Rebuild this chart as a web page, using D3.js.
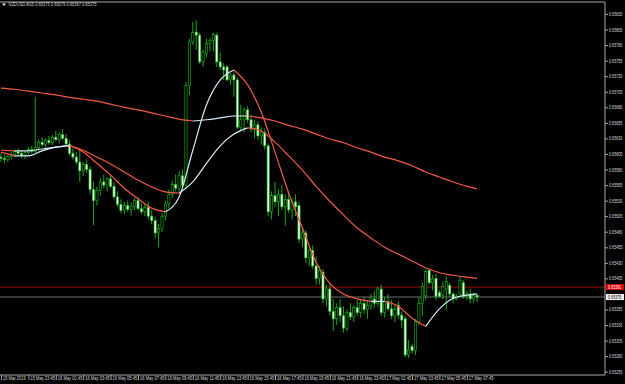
<!DOCTYPE html>
<html>
<head>
<meta charset="utf-8">
<script src="https://cdn.jsdelivr.net/npm/d3@7"></script>
<style>
html, body { margin: 0; padding: 0; background: #000; }
svg { display: block; }
text { font-family: "Liberation Sans", Arial, sans-serif; }
</style>
</head>
<body>
<svg id="chart" width="625" height="384"></svg>
<script>
// NZDUSD M15, 15 May 21:45 -> 17 May 08:30 (140 bars)
const opens = [0.65600,0.65598,0.65596,0.65601,0.65604,0.65609,0.65606,0.65603,0.65607,0.65612,
  0.65609,0.65615,0.65624,0.65620,0.65627,0.65623,0.65632,0.65628,0.65636,0.65630,
  0.65621,0.65606,0.65600,0.65592,0.65578,0.65588,0.65580,0.65548,0.65530,0.65546,
  0.65560,0.65555,0.65565,0.65553,0.65536,0.65524,0.65514,0.65522,0.65516,0.65520,
  0.65530,0.65517,0.65512,0.65519,0.65505,0.65498,0.65478,0.65485,0.65505,0.65525,
  0.65540,0.65556,0.65550,0.65570,0.65555,0.65715,0.65785,0.65801,0.65796,0.65753,
  0.65766,0.65783,0.65787,0.65796,0.65753,0.65745,0.65745,0.65724,0.65732,0.65724,
  0.65648,0.65660,0.65676,0.65660,0.65645,0.65652,0.65634,0.65640,0.65618,0.65512,
  0.65538,0.65528,0.65540,0.65520,0.65532,0.65515,0.65528,0.65522,0.65468,0.65478,
  0.65438,0.65450,0.65425,0.65405,0.65415,0.65372,0.65388,0.65352,0.65340,0.65358,
  0.65345,0.65325,0.65350,0.65343,0.65358,0.65350,0.65365,0.65355,0.65362,0.65372,
  0.65365,0.65388,0.65350,0.65368,0.65356,0.65345,0.65362,0.65346,0.65340,0.65282,
  0.65296,0.65289,0.65335,0.65365,0.65378,0.65418,0.65398,0.65405,0.65382,0.65378,
  0.65388,0.65394,0.65380,0.65372,0.65380,0.65398,0.65376,0.65380,0.65372,0.65378];
const highs = [0.65606,0.65604,0.65603,0.65608,0.65612,0.65614,0.65611,0.65610,0.65616,0.65618,
  0.65697,0.65628,0.65632,0.65630,0.65634,0.65636,0.65642,0.65640,0.65645,0.65637,
  0.65627,0.65614,0.65608,0.65612,0.65592,0.65596,0.65585,0.65560,0.65552,0.65566,
  0.65572,0.65568,0.65572,0.65560,0.65545,0.65532,0.65528,0.65530,0.65527,0.65534,
  0.65536,0.65526,0.65524,0.65528,0.65515,0.65503,0.65492,0.65510,0.65530,0.65548,
  0.65562,0.65572,0.65578,0.65580,0.65721,0.65790,0.65817,0.65820,0.65800,0.65772,
  0.65790,0.65792,0.65800,0.65800,0.65768,0.65751,0.65748,0.65735,0.65736,0.65728,
  0.65684,0.65680,0.65682,0.65668,0.65660,0.65658,0.65648,0.65646,0.65622,0.65545,
  0.65560,0.65548,0.65555,0.65540,0.65545,0.65534,0.65540,0.65528,0.65485,0.65482,
  0.65455,0.65458,0.65440,0.65425,0.65420,0.65395,0.65398,0.65372,0.65365,0.65372,
  0.65360,0.65355,0.65365,0.65362,0.65370,0.65372,0.65375,0.65368,0.65380,0.65385,
  0.65392,0.65395,0.65375,0.65380,0.65370,0.65362,0.65368,0.65352,0.65345,0.65306,
  0.65300,0.65340,0.65375,0.65398,0.65420,0.65420,0.65410,0.65412,0.65386,0.65400,
  0.65408,0.65398,0.65382,0.65380,0.65408,0.65402,0.65385,0.65388,0.65382,0.65379];
const lows = [0.65592,0.65590,0.65592,0.65596,0.65600,0.65603,0.65598,0.65597,0.65604,0.65606,
  0.65605,0.65610,0.65617,0.65615,0.65620,0.65619,0.65625,0.65622,0.65628,0.65618,
  0.65602,0.65596,0.65588,0.65560,0.65570,0.65575,0.65540,0.65491,0.65522,0.65538,
  0.65550,0.65545,0.65550,0.65532,0.65520,0.65510,0.65508,0.65512,0.65506,0.65515,
  0.65514,0.65508,0.65505,0.65500,0.65492,0.65470,0.65455,0.65480,0.65498,0.65518,
  0.65534,0.65545,0.65544,0.65548,0.65548,0.65700,0.65780,0.65772,0.65750,0.65745,
  0.65760,0.65770,0.65770,0.65745,0.65740,0.65724,0.65722,0.65716,0.65697,0.65645,
  0.65642,0.65640,0.65655,0.65640,0.65630,0.65628,0.65620,0.65612,0.65505,0.65500,
  0.65520,0.65505,0.65515,0.65490,0.65510,0.65500,0.65505,0.65462,0.65455,0.65430,
  0.65425,0.65420,0.65395,0.65395,0.65365,0.65360,0.65345,0.65320,0.65330,0.65335,
  0.65318,0.65320,0.65338,0.65335,0.65345,0.65342,0.65348,0.65340,0.65355,0.65358,
  0.65360,0.65345,0.65342,0.65352,0.65340,0.65335,0.65340,0.65325,0.65278,0.65277,
  0.65284,0.65282,0.65330,0.65345,0.65370,0.65395,0.65386,0.65370,0.65374,0.65372,
  0.65355,0.65375,0.65365,0.65370,0.65378,0.65372,0.65370,0.65365,0.65366,0.65367];
const closes = [0.65598,0.65596,0.65601,0.65604,0.65609,0.65606,0.65603,0.65607,0.65612,0.65609,
  0.65615,0.65624,0.65620,0.65627,0.65623,0.65632,0.65628,0.65636,0.65630,0.65621,
  0.65606,0.65600,0.65592,0.65578,0.65588,0.65580,0.65548,0.65530,0.65546,0.65560,
  0.65555,0.65565,0.65553,0.65536,0.65524,0.65514,0.65522,0.65516,0.65520,0.65530,
  0.65517,0.65512,0.65519,0.65505,0.65498,0.65478,0.65485,0.65505,0.65525,0.65540,
  0.65556,0.65550,0.65570,0.65555,0.65715,0.65785,0.65800,0.65796,0.65753,0.65769,
  0.65783,0.65787,0.65797,0.65753,0.65745,0.65740,0.65724,0.65732,0.65724,0.65648,
  0.65660,0.65676,0.65660,0.65645,0.65652,0.65634,0.65640,0.65618,0.65512,0.65538,
  0.65528,0.65540,0.65520,0.65532,0.65515,0.65528,0.65520,0.65468,0.65478,0.65438,
  0.65450,0.65425,0.65405,0.65418,0.65372,0.65388,0.65352,0.65340,0.65358,0.65345,
  0.65325,0.65350,0.65343,0.65358,0.65350,0.65365,0.65355,0.65362,0.65372,0.65365,
  0.65388,0.65350,0.65368,0.65356,0.65345,0.65355,0.65346,0.65338,0.65282,0.65290,
  0.65289,0.65335,0.65365,0.65392,0.65416,0.65398,0.65404,0.65376,0.65376,0.65392,
  0.65400,0.65380,0.65372,0.65377,0.65402,0.65376,0.65380,0.65372,0.65378,0.65375];

const maBars = [0,4,8,12,16,20,24,28,32,36,40,44,48,52,56,60,64,68,72,76,80,84,88,92,96,100,104,108,112,116,120,124,128,132,136,139];
const maFast = [0.65608,0.65602,0.65602,0.65610,0.65616,0.65619,0.65608,0.65590,0.65571,0.65550,0.65533,0.65518,0.65512,0.65536,0.65611,0.65684,0.65724,0.65740,0.65716,0.65672,0.65608,0.65542,0.65486,0.65431,0.65397,0.65380,0.65372,0.65368,0.65368,0.65360,0.65341,0.65328,0.65356,0.65373,0.65378,0.65380];
const maMid = [0.65611,0.65610,0.65610,0.65613,0.65616,0.65618,0.65611,0.65600,0.65589,0.65576,0.65563,0.65552,0.65544,0.65542,0.65560,0.65590,0.65618,0.65637,0.65647,0.65642,0.65624,0.65602,0.65579,0.65553,0.65529,0.65507,0.65486,0.65470,0.65455,0.65444,0.65433,0.65422,0.65414,0.65410,0.65407,0.65405];
const maSlow = [0.65711,0.65709,0.65706,0.65703,0.65700,0.65696,0.65693,0.65690,0.65685,0.65680,0.65676,0.65671,0.65666,0.65661,0.65658,0.65660,0.65663,0.65666,0.65666,0.65663,0.65658,0.65651,0.65645,0.65637,0.65629,0.65623,0.65615,0.65608,0.65600,0.65594,0.65586,0.65576,0.65568,0.65560,0.65553,0.65549];

const priceTicks = [0.65830,0.65805,0.65780,0.65755,0.65730,0.65705,0.65680,0.65655,0.65630,0.65605,0.65580,0.65555,0.65530,0.65505,0.65480,0.65455,0.65430,0.65405,0.65380,0.65355,0.65330,0.65305,0.65280,0.65255];
const timeBars = [0,8,16,24,32,40,48,56,64,72,80,88,96,104,112,120,128,136];
const timeLabels = ["15 May 2019","15 May 23:45","16 May 01:45","16 May 03:45","16 May 05:45","16 May 07:45","16 May 09:45","16 May 11:45","16 May 13:45","16 May 15:45","16 May 17:45","16 May 19:45","16 May 21:45","16 May 23:45","17 May 01:45","17 May 03:45","17 May 05:45","17 May 07:45"];
const bidPrice = 0.65375, askPrice = 0.65391;
const title = "NZDUSD,M15  0.65375 0.65379 0.65367 0.65375";

const svg = d3.select("#chart");
const W = 605, plotTop = 2, plotBottom = 375;
const green = "#1cb81c", bullFill = "#000", bearFill = "#dff7df";
const upColor = "#d6ecf7", downColor = "#f25a44";

const x = d3.scaleLinear().domain([0, 139]).range([1, 477.1]);
const y = d3.scaleLinear().domain([0.65255, 0.65830]).range([371.7, 14]);

svg.append("rect").attr("width", 625).attr("height", 384).attr("fill", "#000");

// ask / bid lines
svg.append("line").attr("x1", 0).attr("x2", W).attr("y1", y(askPrice)).attr("y2", y(askPrice))
  .attr("stroke", "#9a1010").attr("stroke-width", 1);
svg.append("line").attr("x1", 0).attr("x2", W).attr("y1", y(bidPrice)).attr("y2", y(bidPrice))
  .attr("stroke", "#4a4a4a").attr("stroke-width", 1.4);

// candles
const bars = d3.range(opens.length);
const g = svg.append("g");
g.selectAll(".wick").data(bars).enter().append("line")
  .attr("x1", i => x(i)).attr("x2", i => x(i))
  .attr("y1", i => y(highs[i])).attr("y2", i => y(lows[i]))
  .attr("stroke", green).attr("stroke-width", 0.9);
g.selectAll(".body").data(bars).enter().append("rect")
  .attr("x", i => x(i) - 1.1)
  .attr("width", 2.2)
  .attr("y", i => y(Math.max(opens[i], closes[i])))
  .attr("height", i => Math.max(0.6, Math.abs(y(opens[i]) - y(closes[i]))))
  .attr("fill", i => closes[i] >= opens[i] ? bullFill : bearFill)
  .attr("stroke", green).attr("stroke-width", 0.6);

// moving averages, light when rising and red when falling
function drawMA(vals) {
  const pts = maBars.map((b, i) => [b, vals[i]]);
  const runs = [];
  let cur = [pts[0]], dir = null;
  for (let i = 1; i < pts.length; i++) {
    const d = pts[i][1] >= pts[i - 1][1] ? "up" : "down";
    if (dir && d !== dir) { runs.push({ dir, pts: cur }); cur = [pts[i - 1]]; }
    dir = d;
    cur.push(pts[i]);
  }
  runs.push({ dir, pts: cur });
  const line = d3.line().x(d => x(d[0])).y(d => y(d[1])).curve(d3.curveMonotoneX);
  runs.forEach(r => {
    svg.append("path").attr("d", line(r.pts)).attr("fill", "none")
      .attr("stroke", r.dir === "up" ? upColor : downColor).attr("stroke-width", 1.2);
  });
}
drawMA(maSlow);
drawMA(maMid);
drawMA(maFast);

// frame
svg.append("path").attr("d", `M0,${plotTop}H${W}V${plotBottom}H0`).attr("fill", "none")
  .attr("stroke", "#a8a8a8").attr("stroke-width", 1);

// price axis
const shown = priceTicks.filter(p => Math.abs(y(p) - y(bidPrice)) > 5 && Math.abs(y(p) - y(askPrice)) > 5);
const ya = svg.append("g").attr("transform", `translate(${W},0)`)
  .call(d3.axisRight(y).tickValues(shown).tickSize(3).tickFormat(d3.format(".5f")));
ya.select(".domain").remove();
ya.selectAll("line").attr("stroke", "#a8a8a8");
ya.selectAll("text").attr("x", 4).attr("fill", "#d8d8d8").attr("font-size", 4.6)
  .attr("textLength", 13.4).attr("lengthAdjust", "spacingAndGlyphs");

// bid / ask labels
[[askPrice, "#e00000", "#fff"], [bidPrice, "#f2f2f2", "#000"]].forEach(([p, bg, fg]) => {
  svg.append("rect").attr("x", W + 1).attr("y", y(p) - 3).attr("width", 18).attr("height", 6).attr("fill", bg);
  svg.append("text").attr("x", W + 3).attr("y", y(p) + 1.7).attr("fill", fg).attr("font-size", 4.6)
    .attr("textLength", 13.4).attr("lengthAdjust", "spacingAndGlyphs").text(d3.format(".5f")(p));
});

// time axis
const xa = svg.append("g").attr("transform", `translate(0,${plotBottom})`)
  .call(d3.axisBottom(x).tickValues(timeBars).tickSize(5).tickFormat((d, i) => timeLabels[i]));
xa.select(".domain").remove();
xa.selectAll("line").attr("stroke", "#a8a8a8");
xa.selectAll("text").attr("text-anchor", "start").attr("x", 1.5).attr("y", 2).attr("dy", "0.71em")
  .attr("fill", "#d8d8d8").attr("font-size", 4.6)
  .attr("textLength", (d, i) => timeLabels[i].length * 2.05).attr("lengthAdjust", "spacingAndGlyphs");

// title
svg.append("path").attr("d", "M2,3.5H6L4,6Z").attr("fill", "#e8e8e8");
svg.append("text").attr("x", 8.5).attr("y", 6.4).attr("fill", "#d8d8d8").attr("font-size", 4.6)
  .attr("textLength", 88).attr("lengthAdjust", "spacingAndGlyphs").text(title);
</script>
</body>
</html>
